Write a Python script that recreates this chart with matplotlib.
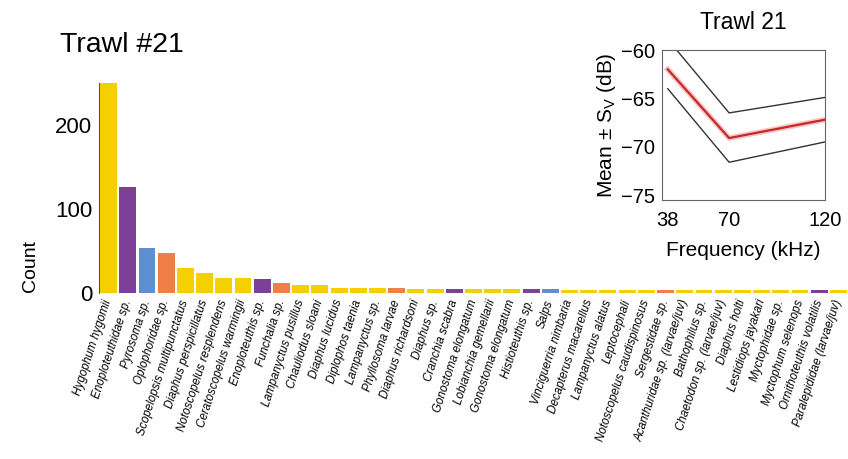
import matplotlib
matplotlib.use("Agg")
import matplotlib.pyplot as plt
import numpy as np

plt.rcParams["font.family"] = ["Liberation Sans", "DejaVu Sans"]
plt.rcParams["mathtext.fontset"] = "custom"
plt.rcParams["mathtext.rm"] = "Liberation Sans"
plt.rcParams["mathtext.it"] = "Liberation Sans:italic"

# taxa caught in trawl 21, sorted by count
species = [
    "Hygophum hygomii", "Enoploteuthidae sp.", "Pyrosoma sp.", "Oplophoridae sp.",
    "Scopelopsis multipunctatus", "Diaphus perspicillatus", "Notoscopelus resplendens",
    "Ceratoscopelus warmingii", "Enoploteuthis sp.", "Funchalia sp.",
    "Lampanyctus pusillus", "Chauliodus sloani", "Diaphus lucidus", "Diplophos taenia",
    "Lampanyctus sp.", "Phyllosoma larvae", "Diaphus richardsoni", "Diaphus sp.",
    "Cranchia scabra", "Gonostoma elongatum", "Lobianchia gemellarii",
    "Gonostoma elongatum", "Histioteuthis sp.", "Salps", "Vinciguerria nimbaria",
    "Decapterus macarellus", "Lampanyctus alatus", "Leptocephali",
    "Notoscopelus caudispinosus", "Sergestidae sp.", "Acanthuridae sp. (larvae/juv)",
    "Bathophilus sp.", "Chaetodon sp. (larvae/juv)", "Diaphus holti",
    "Lestidiops jayakari", "Myctophidae sp.", "Myctophum selenops",
    "Ornithoteuthis volatilis", "Paralepididae (larvae/juv)",
]
counts = [250, 126, 54, 48, 30, 24, 18, 18, 17, 12, 9, 9, 6, 6, 6, 6, 5, 5, 5, 5,
          5, 5, 5, 5, 4, 4, 4, 4, 4, 4, 3, 3, 3, 3, 3, 3, 3, 3, 3]
# F = fish, S = squid, T = tunicate, C = crustacean
groups = list("FSTCFFFFSCFFFFFCFFSFFFSTFFFFFCFFFFFFFSF")
group_colors = {"F": "#F5D000", "S": "#7D3F98", "T": "#5F8FD3", "C": "#F07F45"}

# inset: mean +/- sd volume backscatter
freqs = [38, 70, 120]
sv_mean = [-62.0, -69.1, -67.2]
sv_upper = [-58.9, -66.5, -64.9]
sv_lower = [-64.0, -71.6, -69.5]

fig = plt.figure(figsize=(8.48, 4.59), dpi=100)
W, H = 848, 459

ax = fig.add_axes([99 / W, 1 - 293 / H, 749 / W, 210 / H])
x = np.arange(len(species))
ax.bar(x, counts, width=0.88, color=[group_colors[g] for g in groups])
ax.set_xlim(-0.5, len(species) - 0.5)
ax.set_ylim(0, 250)
ax.set_yticks([0, 100, 200])
ax.tick_params(axis="y", length=0, labelsize=16, pad=5)
ax.set_xticks(x)
ax.set_xticklabels(species, rotation=72, ha="right", va="center",
                   rotation_mode="anchor", fontstyle="italic", fontsize=8.4)
ax.tick_params(axis="x", length=0, pad=5)
for s in ["top", "right", "bottom"]:
    ax.spines[s].set_visible(False)
ax.spines["left"].set_color("#555555")

fig.text(60 / W, 1 - 45 / H, "Trawl #21", fontsize=20.5, ha="left", va="center")
fig.text(30 / W, 1 - 266 / H, "Count", fontsize=14, rotation=90,
         ha="center", va="center")

# inset
axi = fig.add_axes([662 / W, 1 - 200 / H, 163 / W, 150 / H])
axi.plot(freqs, sv_upper, color="#333333", lw=1)
axi.plot(freqs, sv_lower, color="#333333", lw=1)
axi.plot(freqs, sv_mean, color="#F4A0A0", lw=4, alpha=0.6)
axi.plot(freqs, sv_mean, color="#C62828", lw=1.6)
axi.set_xlim(35, 120)
axi.set_ylim(-75.5, -60)
axi.set_xticks(freqs)
axi.set_yticks([-60, -65, -70, -75])
axi.tick_params(length=0, labelsize=14.5)
axi.tick_params(axis="x", pad=8)
axi.tick_params(axis="y", pad=5)
for s in axi.spines.values():
    s.set_color("#666666")
    s.set_linewidth(0.8)
axi.set_title("Trawl 21", fontsize=16.5, pad=15)
axi.set_xlabel("Frequency (kHz)", fontsize=15, labelpad=8)
axi.set_ylabel(r"Mean ± S$_\mathrm{V}$ (dB)", fontsize=15, labelpad=2)

fig.savefig("out.png", dpi=100)
